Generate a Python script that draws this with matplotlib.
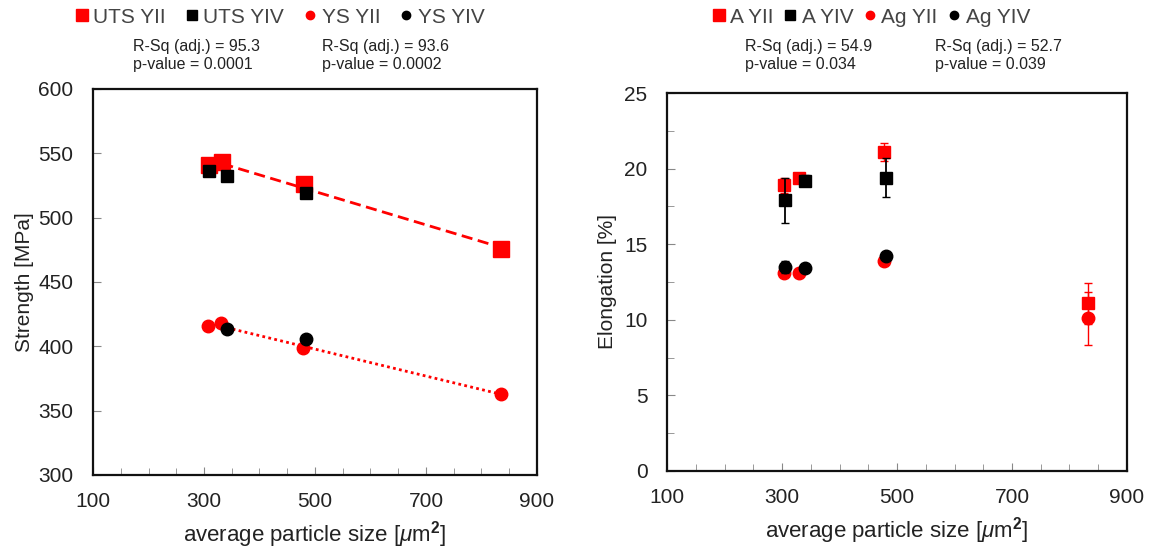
import numpy as np
import matplotlib
matplotlib.use("Agg")
import matplotlib.pyplot as plt
from matplotlib.ticker import MultipleLocator, FixedLocator
from matplotlib.lines import Line2D

plt.rcParams['font.family'] = ['Liberation Sans', 'DejaVu Sans']
plt.rcParams['mathtext.fontset'] = 'custom'
plt.rcParams['mathtext.it'] = 'Liberation Sans:italic'
plt.rcParams['mathtext.rm'] = 'Liberation Sans'
plt.rcParams['mathtext.bf'] = 'Liberation Sans:bold'

# ---------------- data: strength panel ----------------
uts_yii_x = [309, 333, 481, 836]
uts_yii_y = [541, 543.5, 526.5, 475.5]
uts_yii_err = [2, 2, 2, 5]
uts_yiv_x = [309, 341, 483]
uts_yiv_y = [536.5, 532, 519.5]
ys_yii_x = [308, 330, 478, 835]
ys_yii_y = [416, 418.5, 399, 363]
ys_yiv_x = [341, 483]
ys_yiv_y = [413.5, 405.5]

# ---------------- data: elongation panel ----------------
a_yii_x = [304, 330, 477, 833]
a_yii_y = [18.9, 19.4, 21.1, 11.1]
a_yii_err = [0.5, 0.2, 0.6, 1.35]
a_yiv_x = [306, 340, 481]
a_yiv_y = [17.9, 19.2, 19.4]
a_yiv_err = [1.5, 0.35, 1.3]
ag_yii_x = [304, 329, 477, 833]
ag_yii_y = [13.1, 13.1, 13.9, 10.1]
ag_yii_err = [0.1, 0.1, 0.1, 1.75]
ag_yiv_x = [306, 340, 481]
ag_yiv_y = [13.5, 13.45, 14.25]
ag_yiv_err = [0.4, 0.1, 0.1]

x_ticks = [100, 300, 500, 700, 900]
stats_left = ["R-Sq (adj.) = 95.3\np-value = 0.0001", "R-Sq (adj.) = 93.6\np-value = 0.0002"]
stats_right = ["R-Sq (adj.) = 54.9\np-value = 0.034", "R-Sq (adj.) = 52.7\np-value = 0.039"]

RED = '#ff0000'
BLK = '#000000'
TXT = '#222222'

fig = plt.figure(figsize=(11.54, 5.49), dpi=100)
ax1 = fig.add_axes([0.0806, 0.1348, 0.3847, 0.7031])
ax2 = fig.add_axes([0.578, 0.1421, 0.3986, 0.6885])


def style(ax, ylim, ymajor, yminor):
    ax.set_xlim(100, 900)
    ax.set_ylim(*ylim)
    ax.xaxis.set_major_locator(FixedLocator(x_ticks))
    ax.xaxis.set_minor_locator(MultipleLocator(50))
    ax.yaxis.set_major_locator(MultipleLocator(ymajor))
    ax.yaxis.set_minor_locator(MultipleLocator(yminor))
    ax.tick_params(axis='both', which='both', direction='in', color='#888888',
                   labelcolor=TXT, labelsize=15, top=False, right=False)
    ax.tick_params(axis='x', which='major', length=6, pad=12)
    ax.tick_params(axis='x', which='minor', length=5)
    ax.tick_params(axis='y', which='major', length=6, pad=14)
    ax.tick_params(axis='y', which='minor', length=5)
    for s in ax.spines.values():
        s.set_linewidth(1.6)
        s.set_color('#111111')
    ax.set_xlabel(r'average particle size [$\mu$m$^{\mathbf{2}}$]', fontsize=16, color=TXT, labelpad=6)


style(ax1, (300, 600), 50, 50)
style(ax2, (0, 25), 5, 2.5)
ax1.set_ylabel('Strength [MPa]', fontsize=15, color=TXT, labelpad=3)
ax2.set_ylabel('Elongation [%]', fontsize=15, color=TXT, labelpad=5)

# ---- left panel ----
c_uts = np.polyfit(uts_yii_x, uts_yii_y, 1)
c_ys = np.polyfit(ys_yii_x, ys_yii_y, 1)
xu = np.array([uts_yii_x[1], uts_yii_x[-1]])
xy = np.array([ys_yiv_x[0], ys_yii_x[-1]])
ax1.plot(xu, np.polyval(c_uts, xu), color=RED, ls=(0, (4, 2)), lw=2, zorder=2)
ax1.plot(xy, np.polyval(c_ys, xy), color=RED, ls=(0, (1, 1.2)), lw=2, zorder=2)

ax1.errorbar(uts_yii_x, uts_yii_y, yerr=uts_yii_err, fmt='s', color=RED, ms=11,
             capsize=3, elinewidth=1, zorder=3)
ax1.plot(uts_yiv_x, uts_yiv_y, 's', color=BLK, ms=9, zorder=4)
ax1.plot(ys_yii_x, ys_yii_y, 'o', color=RED, ms=9, zorder=3)
ax1.plot(ys_yiv_x, ys_yiv_y, 'o', color=BLK, ms=9, zorder=4)

# ---- right panel ----
ax2.errorbar(ag_yii_x, ag_yii_y, yerr=ag_yii_err, fmt='o', color=RED, ms=9,
             capsize=3, elinewidth=1, zorder=3)
ax2.errorbar(a_yii_x, a_yii_y, yerr=a_yii_err, fmt='s', color=RED, ms=9,
             capsize=3, elinewidth=1, zorder=3)
ax2.errorbar(ag_yiv_x, ag_yiv_y, yerr=ag_yiv_err, fmt='o', color=BLK, ms=9,
             capsize=3, elinewidth=1, zorder=4)
ax2.errorbar(a_yiv_x, a_yiv_y, yerr=a_yiv_err, fmt='s', color=BLK, ms=9,
             capsize=3, elinewidth=1.3, zorder=4)


# ---- legends ----
def handles():
    return [Line2D([], [], ls='none', marker='s', color=RED, ms=8),
            Line2D([], [], ls='none', marker='s', color=BLK, ms=7),
            Line2D([], [], ls='none', marker='o', color=RED, ms=6),
            Line2D([], [], ls='none', marker='o', color=BLK, ms=6)]


leg_kw = dict(ncol=4, frameon=False, fontsize=15, handlelength=0.6, handletextpad=0.25,
              loc='center', borderaxespad=0, labelcolor='#444444')
fig.legend(handles(), ['UTS YII', 'UTS YIV', 'YS YII', 'YS YIV'],
           bbox_to_anchor=(0.2426, 0.969), columnspacing=0.95, **leg_kw)
fig.legend(handles(), ['A YII', 'A YIV', 'Ag YII', 'Ag YIV'],
           bbox_to_anchor=(0.755, 0.969), columnspacing=0.5, **leg_kw)

# ---- statistics text ----
for x, s in zip([133, 322], stats_left):
    fig.text(x / 1154, 1 - 39 / 549, s, fontsize=11.5, color=TXT, va='top', ha='left', linespacing=1.25)
for x, s in zip([745, 935], stats_right):
    fig.text(x / 1154, 1 - 39 / 549, s, fontsize=11.5, color=TXT, va='top', ha='left', linespacing=1.25)

fig.savefig('out.png', dpi=100)
